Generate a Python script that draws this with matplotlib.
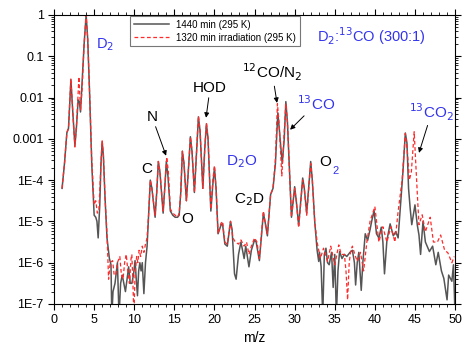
import matplotlib
matplotlib.use("Agg")
import matplotlib.pyplot as plt
from matplotlib.ticker import FixedLocator, MultipleLocator, NullFormatter

plt.rcParams['font.family'] = ['Liberation Sans', 'DejaVu Sans']

# Spectrum: m/z and intensity (log10)
mz_1440 = [1.0, 1.3, 1.6, 1.8, 2.1, 2.35, 2.6, 2.8, 3.0, 3.15, 3.3, 3.5, 3.75, 4.0, 4.2, 4.45, 4.7, 5.0,
           5.2, 5.35, 5.5, 5.7, 5.85, 6.0, 6.15, 6.35, 6.6, 6.9, 7.1, 7.2, 7.35, 7.6, 7.9, 8.1, 8.3, 8.5,
           8.7, 8.9, 9.1, 9.3, 9.5, 9.7, 9.9, 10.1, 10.25, 10.4, 10.55, 10.7, 10.85, 11.0, 11.2, 11.4, 11.6,
           11.8, 12.0, 12.2, 12.6, 12.8, 13.0, 13.2, 13.6, 13.8, 14.0, 14.2, 14.5, 14.8, 15.1, 15.4, 15.6,
           15.8, 16.0, 16.2, 16.5, 16.8, 17.0, 17.2, 17.5, 17.8, 18.0, 18.2, 18.55, 18.8, 19.0, 19.2, 19.55,
           19.8, 20.0, 20.2, 20.45, 20.8, 21.0, 21.3, 21.6, 22.0, 22.2, 22.5, 22.7, 23.0, 23.3, 23.7, 23.9,
           24.3, 24.6, 25.0, 25.2, 25.6, 26.1, 26.3, 26.6, 27.0, 27.3, 27.6, 27.9, 28.1, 28.45, 28.7, 28.9,
           29.1, 29.6, 30.0, 30.2, 30.5, 31.0, 31.2, 31.5, 32.0, 32.2, 32.5, 32.8, 33.0, 33.1, 33.3, 33.5,
           33.7, 33.9, 34.1, 34.3, 34.6, 34.8, 35.0, 35.2, 35.4, 35.6, 35.9, 36.2, 36.5, 36.9, 37.2, 37.45,
           37.6, 37.8, 38.0, 38.3, 38.5, 38.8, 39.1, 39.4, 39.6, 39.9, 40.2, 40.5, 40.8, 41.0, 41.2, 41.5,
           41.9, 42.3, 42.6, 42.9, 43.3, 43.5, 43.8, 44.0, 44.2, 44.4, 44.6, 45.0, 45.3, 45.5, 45.7, 46.0,
           46.3, 46.8, 47.2, 47.6, 47.9, 48.3, 48.6, 49.0, 49.2, 49.6, 49.8, 50.0]
log_1440 = [-4.2, -3.6, -2.85, -2.75, -1.57, -2.4, -3.17, -2.7, -2.06, -2.1, -2.35, -1.6, -0.7, 0.0, -0.6,
            -2.0, -3.6, -4.85, -4.9, -5.0, -5.4, -4.6, -3.6, -3.07, -3.4, -4.4, -5.4, -5.9, -6.05, -7.3,
            -6.7, -6.5, -6.0, -7.3, -6.5, -6.3, -6.5, -6.7, -6.4, -6.1, -6.5, -6.5, -6.3, -5.95, -6.4, -6.8,
            -6.2, -6.0, -6.2, -6.0, -6.75, -6.0, -5.6, -4.8, -4.0, -4.2, -4.9, -4.3, -3.55, -3.8, -4.8,
            -4.2, -3.55, -3.9, -4.75, -4.85, -4.9, -4.9, -4.85, -4.3, -3.3, -3.6, -4.5, -3.6, -2.95, -3.3,
            -4.3, -3.2, -2.47, -2.8, -4.2, -3.2, -2.64, -3.0, -4.75, -4.1, -3.7, -4.2, -5.3, -5.1, -5.05,
            -5.55, -5.6, -5.0, -5.2, -6.27, -6.4, -5.8, -5.5, -5.9, -5.6, -6.1, -5.7, -5.45, -5.5, -5.95,
            -4.8, -5.0, -5.35, -4.35, -4.2, -3.6, -2.37, -2.8, -3.6, -3.0, -2.1, -2.6, -4.9, -4.16, -4.5,
            -5.1, -3.95, -4.2, -4.8, -3.55, -4.0, -5.0, -5.7, -5.97, -5.75, -6.1, -7.3, -5.8, -5.65, -6.0,
            -6.05, -5.75, -6.6, -5.8, -7.3, -6.2, -5.73, -5.9, -5.8, -5.85, -5.75, -5.7, -6.0, -6.54, -6.0,
            -5.75, -6.67, -6.0, -5.3, -5.46, -5.2, -5.0, -4.74, -5.3, -5.4, -5.14, -5.5, -6.27, -5.46, -5.06,
            -5.35, -5.25, -5.4, -4.33, -3.8, -2.86, -3.1, -4.2, -4.68, -5.08, -4.6, -5.1, -5.33, -5.8, -5.0,
            -5.5, -5.73, -5.6, -6.05, -5.75, -6.2, -6.38, -6.9, -6.3, -6.45, -6.05, -7.3]

mz_1320 = [1.0, 1.3, 1.6, 1.8, 2.1, 2.35, 2.6, 2.85, 3.1, 3.3, 3.5, 3.75, 4.0, 4.2, 4.45, 4.7, 5.0, 5.2,
           5.4, 5.6, 5.85, 6.0, 6.15, 6.35, 6.6, 6.8, 7.0, 7.3, 7.5, 7.7, 7.9, 8.2, 8.4, 8.6, 8.8, 9.0,
           9.2, 9.4, 9.6, 9.7, 9.85, 9.95, 10.1, 10.3, 10.45, 10.6, 10.8, 11.0, 11.2, 11.4, 11.6, 11.8,
           12.0, 12.2, 12.6, 12.8, 13.0, 13.2, 13.6, 13.8, 14.05, 14.25, 14.5, 14.8, 15.1, 15.4, 15.6, 15.8,
           16.0, 16.2, 16.5, 16.8, 17.0, 17.2, 17.5, 17.8, 18.0, 18.2, 18.55, 18.8, 19.0, 19.2, 19.55, 19.8,
           20.0, 20.2, 20.45, 20.8, 21.0, 21.3, 21.6, 22.0, 22.3, 22.6, 23.0, 23.3, 23.7, 24.0, 24.3, 24.6,
           25.0, 25.3, 25.6, 26.1, 26.3, 26.6, 27.0, 27.3, 27.6, 27.85, 28.05, 28.4, 28.65, 28.9, 29.1,
           29.6, 30.0, 30.2, 30.5, 31.0, 31.2, 31.5, 32.0, 32.2, 32.5, 32.8, 33.2, 33.6, 34.1, 34.5, 35.0,
           35.5, 35.8, 36.2, 36.4, 36.6, 36.8, 37.0, 37.2, 37.5, 37.8, 38.2, 38.6, 39.0, 39.4, 40.0, 40.5,
           41.0, 41.5, 42.0, 42.5, 42.9, 43.4, 43.8, 44.05, 44.3, 44.55, 44.9, 45.1, 45.3, 45.5, 45.9, 46.3,
           46.9, 47.3, 47.8, 48.2, 48.7, 49.1, 49.6, 49.9]
log_1320 = [-4.2, -3.6, -2.85, -2.75, -1.55, -2.4, -3.2, -2.5, -1.5, -2.3, -1.8, -0.7, 0.0, -0.6, -2.0,
            -3.5, -4.6, -4.5, -4.8, -4.7, -3.6, -3.05, -3.4, -4.4, -5.3, -6.4, -6.0, -5.95, -6.3, -6.3, -6.0,
            -5.85, -6.3, -6.4, -6.0, -5.8, -6.2, -6.5, -5.9, -5.8, -6.6, -7.3, -6.3, -5.85, -6.0, -5.7,
            -5.85, -5.6, -5.75, -5.55, -5.4, -4.8, -4.0, -4.2, -4.85, -4.3, -3.55, -3.8, -4.75, -4.2, -3.44,
            -3.8, -4.7, -4.8, -4.85, -4.9, -4.8, -4.3, -3.3, -3.6, -4.5, -3.6, -2.95, -3.3, -4.3, -3.2,
            -2.45, -2.8, -4.2, -3.2, -2.62, -3.0, -4.7, -4.0, -3.65, -4.2, -5.3, -5.05, -5.0, -5.5, -5.55,
            -5.0, -5.4, -5.5, -5.55, -5.45, -5.6, -5.5, -5.8, -5.6, -5.4, -5.5, -5.9, -4.75, -5.0, -5.3,
            -4.35, -4.2, -3.5, -2.15, -2.6, -3.9, -3.0, -2.15, -2.6, -4.9, -4.2, -4.5, -5.15, -4.0, -4.2,
            -4.85, -3.6, -4.0, -5.0, -5.5, -5.9, -5.65, -5.97, -5.6, -6.05, -5.57, -5.8, -5.8, -6.2, -6.9,
            -6.0, -5.7, -5.6, -5.8, -5.97, -5.75, -6.2, -5.5, -5.0, -4.64, -5.5, -5.13, -5.5, -5.13, -5.5,
            -4.76, -4.0, -2.87, -3.3, -4.0, -3.8, -2.83, -3.6, -4.36, -5.08, -4.84, -5.25, -4.9, -5.5, -5.5,
            -5.33, -5.7, -5.76, -6.0, -5.85]

ytick_vals = [1e-7, 1e-6, 1e-5, 1e-4, 1e-3, 1e-2, 1e-1, 1]
ytick_labels = ["1E-7", "1E-6", "1E-5", "1E-4", "0.001", "0.01", "0.1", "1"]

blue = "#3333ee"

fig = plt.figure(figsize=(4.62, 3.47), dpi=100)
ax = fig.add_axes([0.117, 0.124, 0.868, 0.833])

ax.plot(mz_1440, [10 ** v for v in log_1440], color="#555555", lw=1.1, label="1440 min (295 K)")
ax.plot(mz_1320, [10 ** v for v in log_1320], color="#ff2a2a", lw=0.9, ls=(0, (3, 2)),
        label="1320 min irradiation (295 K)")

ax.set_yscale("log")
ax.set_ylim(1e-7, 1)
ax.set_xlim(0, 50)
ax.yaxis.set_major_locator(FixedLocator(ytick_vals))
ax.set_yticklabels(ytick_labels)
ax.yaxis.set_minor_formatter(NullFormatter())
ax.xaxis.set_major_locator(MultipleLocator(5))
ax.xaxis.set_minor_locator(MultipleLocator(1))
ax.tick_params(which="both", direction="out", top=True, right=True, labelsize=9)
ax.tick_params(which="major", length=4)
ax.tick_params(which="minor", length=2.5)
ax.set_xlabel("m/z", fontsize=10, labelpad=3)

leg = ax.legend(loc="upper left", bbox_to_anchor=(0.19, 0.995), fontsize=7.0, handlelength=3.6,
                borderpad=0.35, labelspacing=0.3, fancybox=False, framealpha=1, borderaxespad=0)
leg.get_frame().set_edgecolor("#777777")
leg.get_frame().set_linewidth(0.8)

arrow = dict(arrowstyle="-|>", color="black", lw=0.7, mutation_scale=7, shrinkA=0, shrinkB=0)
fs = 11

ax.text(6.36, 10 ** -0.73, "D$_2$", color=blue, fontsize=10.5, ha="center", va="center")
ax.text(39.6, 10 ** -0.51, "D$_2$:$^{13}$CO (300:1)", color=blue, fontsize=10.5, ha="center", va="center")
ax.annotate("HOD", xy=(18.95, 10 ** -2.49), xytext=(19.45, 10 ** -1.77), fontsize=fs,
            ha="center", va="center", arrowprops=arrow)
ax.annotate("N", xy=(13.97, 10 ** -3.41), xytext=(12.22, 10 ** -2.47), fontsize=fs,
            ha="center", va="center", arrowprops=arrow)
ax.text(11.6, 10 ** -3.73, "C", fontsize=fs, ha="center", va="center")
ax.text(16.6, 10 ** -4.94, "O", fontsize=fs, ha="center", va="center")
ax.text(23.4, 10 ** -3.56, "D$_2$O", color=blue, fontsize=fs, ha="center", va="center")
ax.text(24.4, 10 ** -4.48, "C$_2$D", fontsize=fs, ha="center", va="center")
ax.annotate("$^{12}$CO/N$_2$", xy=(27.8, 10 ** -2.13), xytext=(27.2, 10 ** -1.4), fontsize=fs,
            ha="center", va="center", arrowprops=arrow)
ax.annotate("$^{13}$CO", xy=(29.43, 10 ** -2.78), xytext=(32.7, 10 ** -2.15), color=blue, fontsize=fs,
            ha="center", va="center", arrowprops=arrow)
ax.text(34.6, 10 ** -3.56, "O", fontsize=fs, ha="right", va="center")
ax.text(34.7, 10 ** -3.78, "2", color=blue, fontsize=8, ha="left", va="center")
ax.annotate("$^{13}$CO$_2$", xy=(45.5, 10 ** -3.34), xytext=(47.1, 10 ** -2.35), color=blue, fontsize=fs,
            ha="center", va="center", arrowprops=arrow)

fig.savefig("out.png", dpi=100)
